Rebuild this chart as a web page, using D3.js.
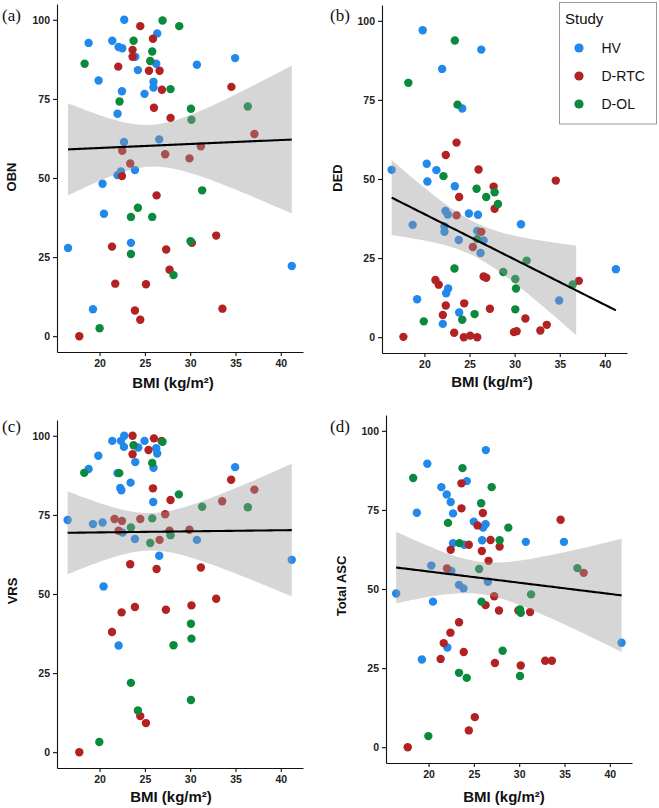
<!DOCTYPE html>
<html>
<head>
<meta charset="utf-8">
<script src="https://cdn.jsdelivr.net/npm/d3@7"></script>
<style>
  html, body { margin: 0; padding: 0; background: #fff; }
  svg { display: block; }
</style>
</head>
<body>
<svg id="chart" width="659" height="808"></svg>
<script>
// ---------------- DATA ----------------
const studies = ["HV", "D-RTC", "D-OL"];
const studyColors = ["#2188EC", "#B22222", "#0B8A3E"];
const xTicks = [20, 25, 30, 35, 40];
const yTicks = [0, 25, 50, 75, 100];
const xTitle = "BMI (kg/m²)";
const legendTitle = "Study";

// [BMI, score, study]
const obnData = [
  [22.72,100,"HV"],[18.79,92.7,"HV"],[21.40,93.4,"HV"],[26.36,95.7,"HV"],[22.1,91.4,"HV"],[22.5,91.0,"HV"],
  [23.94,88.3,"HV"],[26.25,86.1,"HV"],[30.74,85.8,"HV"],[34.96,87.9,"HV"],[24.23,84.1,"HV"],[19.89,80.8,"HV"],
  [25.95,80.4,"HV"],[25.95,78.6,"HV"],[22.47,77.4,"HV"],[24.96,76.6,"HV"],[21.98,70.3,"HV"],[22.69,61.4,"HV"],
  [26.58,62.2,"HV"],[22.36,52.1,"HV"],[23.90,52.5,"HV"],[21.98,50.9,"HV"],[20.33,48.2,"HV"],[20.48,38.7,"HV"],
  [23.46,29.5,"HV"],[16.52,27.9,"HV"],[41.21,22.2,"HV"],[19.27,8.5,"HV"],
  [24.49,98.0,"D-RTC"],[25.89,94.0,"D-RTC"],[23.64,90.5,"D-RTC"],[23.64,88.3,"D-RTC"],[22.06,85.2,"D-RTC"],
  [25.45,83.9,"D-RTC"],[26.62,83.9,"D-RTC"],[26.88,77.9,"D-RTC"],[34.55,78.8,"D-RTC"],[26.0,72.2,"D-RTC"],
  [27.83,69.0,"D-RTC"],[37.09,63.9,"D-RTC"],[31.18,60.0,"D-RTC"],[22.50,58.6,"D-RTC"],[27.24,57.5,"D-RTC"],
  [29.92,56.2,"D-RTC"],[23.38,54.6,"D-RTC"],[22.47,50.6,"D-RTC"],[26.29,44.5,"D-RTC"],[32.87,31.8,"D-RTC"],
  [30.19,29.5,"D-RTC"],[21.37,28.3,"D-RTC"],[27.35,27.4,"D-RTC"],[27.72,21.0,"D-RTC"],[21.73,16.6,"D-RTC"],
  [25.12,16.4,"D-RTC"],[23.9,8.1,"D-RTC"],[33.56,8.7,"D-RTC"],[24.49,5.2,"D-RTC"],[17.76,0,"D-RTC"],
  [26.95,99.8,"D-OL"],[28.79,98.0,"D-OL"],[23.75,93.4,"D-OL"],[25.81,90.0,"D-OL"],[18.35,86.1,"D-OL"],
  [25.59,87.0,"D-OL"],[27.83,78.1,"D-OL"],[22.2,74.2,"D-OL"],[30.08,71.9,"D-OL"],[36.36,72.6,"D-OL"],
  [30.14,68.4,"D-OL"],[31.32,46.1,"D-OL"],[24.23,40.6,"D-OL"],[23.46,37.7,"D-OL"],[25.81,37.7,"D-OL"],
  [30.04,30.0,"D-OL"],[23.46,26.0,"D-OL"],[28.16,19.3,"D-OL"],[20.0,2.5,"D-OL"]
];

const dedData = [
  [19.81,97.0,"HV"],[26.30,90.9,"HV"],[21.96,84.8,"HV"],[24.19,72.3,"HV"],[16.37,52.9,"HV"],[20.26,54.8,"HV"],
  [21.33,52.8,"HV"],[20.33,49.2,"HV"],[23.37,47.7,"HV"],[22.33,39.9,"HV"],[22.59,38.8,"HV"],[24.93,39.1,"HV"],
  [25.93,38.7,"HV"],[18.70,35.5,"HV"],[30.70,35.7,"HV"],[22.22,35.0,"HV"],[22.22,33.3,"HV"],[25.85,33.6,"HV"],
  [23.81,30.7,"HV"],[26.56,30.6,"HV"],[26.22,26.6,"HV"],[41.22,21.5,"HV"],[22.63,15.4,"HV"],[22.41,13.9,"HV"],
  [19.19,12.0,"HV"],[34.93,11.6,"HV"],[23.85,7.8,"HV"],[22.04,4.2,"HV"],
  [23.56,61.5,"D-RTC"],[22.37,57.6,"D-RTC"],[26.0,53.0,"D-RTC"],[27.67,47.6,"D-RTC"],[34.56,49.5,"D-RTC"],
  [23.85,44.3,"D-RTC"],[27.78,40.6,"D-RTC"],[23.56,38.5,"D-RTC"],[26.30,33.3,"D-RTC"],[25.37,28.5,"D-RTC"],
  [26.56,19.2,"D-RTC"],[26.85,18.8,"D-RTC"],[21.22,18.1,"D-RTC"],[21.59,16.6,"D-RTC"],[37.11,17.8,"D-RTC"],
  [22.37,10.0,"D-RTC"],[24.41,10.7,"D-RTC"],[27.26,9.0,"D-RTC"],[22.04,7.0,"D-RTC"],[31.19,5.9,"D-RTC"],
  [33.56,3.9,"D-RTC"],[32.85,2.1,"D-RTC"],[23.3,1.4,"D-RTC"],[29.92,1.6,"D-RTC"],[30.22,1.9,"D-RTC"],
  [17.67,0.1,"D-RTC"],[24.37,0,"D-RTC"],[25.07,0.5,"D-RTC"],[25.85,0,"D-RTC"],
  [23.37,93.8,"D-OL"],[18.22,80.4,"D-OL"],[23.67,73.5,"D-OL"],[22.11,50.9,"D-OL"],[25.78,46.9,"D-OL"],
  [27.78,45.8,"D-OL"],[26.85,44.3,"D-OL"],[28.15,42.1,"D-OL"],[25.85,31.0,"D-OL"],[31.33,24.2,"D-OL"],
  [23.33,21.7,"D-OL"],[28.74,20.6,"D-OL"],[30.07,18.4,"D-OL"],[36.44,16.7,"D-OL"],[30.15,15.4,"D-OL"],
  [25.56,7.3,"D-OL"],[30.07,8.8,"D-OL"],[19.93,5.0,"D-OL"],[24.19,5.5,"D-OL"]
];

const vrsData = [
  [22.72,100,"HV"],[21.40,98.4,"HV"],[22.36,98.4,"HV"],[24.96,98.4,"HV"],[22.69,96.5,"HV"],[24.27,96.3,"HV"],
  [26.25,96.1,"HV"],[26.36,94.4,"HV"],[19.86,93.7,"HV"],[23.94,91.7,"HV"],[25.95,89.9,"HV"],[34.96,90.1,"HV"],
  [18.79,89.5,"HV"],[21.98,88.2,"HV"],[23.42,85.2,"HV"],[22.28,83.5,"HV"],[22.4,82.8,"HV"],[25.92,79.1,"HV"],
  [16.47,73.4,"HV"],[19.27,72.1,"HV"],[20.33,72.6,"HV"],[22.54,69.4,"HV"],[23.90,67.4,"HV"],[30.74,67.1,"HV"],
  [26.58,62.1,"HV"],[41.21,60.8,"HV"],[20.44,52.4,"HV"],[22.1,33.7,"HV"],
  [23.64,100,"D-RTC"],[26.0,99.2,"D-RTC"],[26.84,98.4,"D-RTC"],[25.40,95.5,"D-RTC"],[23.64,94.2,"D-RTC"],
  [34.52,86.1,"D-RTC"],[25.89,83.4,"D-RTC"],[37.09,83.0,"D-RTC"],[27.83,79.7,"D-RTC"],[33.53,79.3,"D-RTC"],
  [21.65,73.7,"D-RTC"],[22.47,73.1,"D-RTC"],[24.49,73.7,"D-RTC"],[27.24,75.2,"D-RTC"],[22.1,70.0,"D-RTC"],
  [27.72,70.0,"D-RTC"],[29.92,70.3,"D-RTC"],[26.62,67.1,"D-RTC"],[23.38,59.4,"D-RTC"],[26.29,57.9,"D-RTC"],
  [31.18,58.4,"D-RTC"],[32.87,48.5,"D-RTC"],[22.43,44.2,"D-RTC"],[23.9,45.9,"D-RTC"],[27.32,45.0,"D-RTC"],
  [30.14,46.4,"D-RTC"],[21.37,38.0,"D-RTC"],[24.49,11.4,"D-RTC"],[25.12,9.2,"D-RTC"],[17.76,0,"D-RTC"],
  [26.95,98.1,"D-OL"],[23.75,97.0,"D-OL"],[25.81,91.4,"D-OL"],[18.31,88.3,"D-OL"],[22.17,88.2,"D-OL"],
  [28.75,81.5,"D-OL"],[31.32,77.6,"D-OL"],[36.36,77.4,"D-OL"],[25.81,73.9,"D-OL"],[23.46,71.0,"D-OL"],
  [27.83,68.6,"D-OL"],[25.59,66.1,"D-OL"],[30.08,40.6,"D-OL"],[30.14,35.9,"D-OL"],[28.16,33.8,"D-OL"],
  [23.46,21.9,"D-OL"],[30.08,16.5,"D-OL"],[24.23,13.2,"D-OL"],[19.97,3.2,"D-OL"]
];

const ascData = [
  [26.32,93.9,"HV"],[19.86,89.6,"HV"],[24.22,84.1,"HV"],[21.41,82.2,"HV"],[22.0,79.9,"HV"],[22.44,77.5,"HV"],
  [18.70,74.1,"HV"],[22.70,73.9,"HV"],[24.99,71.3,"HV"],[26.29,70.5,"HV"],[26.02,69.4,"HV"],[30.73,64.9,"HV"],
  [34.94,64.9,"HV"],[22.70,64.5,"HV"],[23.92,64.0,"HV"],[25.91,65.4,"HV"],[20.30,57.4,"HV"],[22.51,55.7,"HV"],
  [26.54,52.3,"HV"],[23.36,51.3,"HV"],[23.85,50.2,"HV"],[16.42,48.6,"HV"],[20.48,46.0,"HV"],[22.07,31.5,"HV"],
  [41.3,33.0,"HV"],[19.26,27.7,"HV"],
  [23.63,83.4,"D-RTC"],[23.63,75.5,"D-RTC"],[25.99,74.0,"D-RTC"],[25.40,70.1,"D-RTC"],[34.57,71.9,"D-RTC"],
  [24.44,64.0,"D-RTC"],[26.84,65.5,"D-RTC"],[27.84,63.4,"D-RTC"],[22.44,62.4,"D-RTC"],[25.88,62.0,"D-RTC"],
  [26.62,58.9,"D-RTC"],[22.03,56.5,"D-RTC"],[37.12,55.1,"D-RTC"],[27.24,47.7,"D-RTC"],[26.29,44.9,"D-RTC"],
  [27.77,43.2,"D-RTC"],[29.91,43.2,"D-RTC"],[31.2,42.7,"D-RTC"],[23.36,39.5,"D-RTC"],[22.41,36.2,"D-RTC"],
  [21.67,32.9,"D-RTC"],[23.88,30.1,"D-RTC"],[21.33,27.9,"D-RTC"],[27.32,26.6,"D-RTC"],[32.87,27.3,"D-RTC"],
  [33.61,27.3,"D-RTC"],[30.17,25.8,"D-RTC"],[25.10,9.5,"D-RTC"],[24.44,5.3,"D-RTC"],[17.70,0,"D-RTC"],
  [23.74,88.2,"D-OL"],[18.30,85.1,"D-OL"],[26.96,82.2,"D-OL"],[25.80,77.1,"D-OL"],[22.14,70.9,"D-OL"],
  [28.80,69.4,"D-OL"],[23.40,64.5,"D-OL"],[27.84,65.4,"D-OL"],[25.58,56.3,"D-OL"],[36.42,56.6,"D-OL"],
  [31.31,48.3,"D-OL"],[25.84,46.0,"D-OL"],[30.09,43.5,"D-OL"],[30.17,42.5,"D-OL"],[28.17,30.5,"D-OL"],
  [23.36,23.5,"D-OL"],[24.21,21.9,"D-OL"],[30.09,22.5,"D-OL"],[19.97,3.5,"D-OL"]
];

// ---------------- LAYOUT ----------------
const panels = [
  { tag: "(a)", yTitle: "OBN",       data: obnData, l: 57,  r: 303, t: 4,   b: 352, tagX: 2,   tagY: 21,  yTitleX: 11,  yTitleY: 177, xTitleX: 173, xTitleY: 388 },
  { tag: "(b)", yTitle: "DED",       data: dedData, l: 382, r: 627, t: 5,   b: 353, tagX: 330, tagY: 21,  yTitleX: 337, yTitleY: 178, xTitleX: 492, xTitleY: 387 },
  { tag: "(c)", yTitle: "VRS",       data: vrsData, l: 57,  r: 303, t: 420, b: 768, tagX: 2,   tagY: 432, yTitleX: 12,  yTitleY: 591, xTitleX: 171, xTitleY: 802 },
  { tag: "(d)", yTitle: "Total ASC", data: ascData, l: 386, r: 632, t: 415, b: 763, tagX: 330, tagY: 432, yTitleX: 341, yTitleY: 586, xTitleX: 504, xTitleY: 802 }
];

const color = d3.scaleOrdinal().domain(studies).range(studyColors);
const svg = d3.select("#chart");
svg.append("rect").attr("width", 659).attr("height", 808).attr("fill", "#fff");

// t quantile (0.975) approximation
function tq975(df) {
  const z = 1.959964;
  return z + (z ** 3 + z) / (4 * df) + (5 * z ** 5 + 16 * z ** 3 + 3 * z) / (96 * df * df)
    + (3 * z ** 7 + 19 * z ** 5 + 17 * z ** 3 - 15 * z) / (384 * df ** 3);
}

function linearFit(data) {
  const n = data.length;
  const xs = data.map(d => d[0]), ys = data.map(d => d[1]);
  const mx = d3.mean(xs), my = d3.mean(ys);
  let sxx = 0, sxy = 0;
  for (let i = 0; i < n; i++) { sxx += (xs[i] - mx) ** 2; sxy += (xs[i] - mx) * (ys[i] - my); }
  const slope = sxy / sxx, icpt = my - slope * mx;
  let sse = 0;
  for (let i = 0; i < n; i++) sse += (ys[i] - icpt - slope * xs[i]) ** 2;
  const sigma = Math.sqrt(sse / (n - 2));
  const tval = tq975(n - 2);
  const [x0, x1] = d3.extent(xs);
  return d3.range(80).map(i => {
    const xv = x0 + (x1 - x0) * i / 79;
    const fit = icpt + slope * xv;
    const se = sigma * Math.sqrt(1 / n + (xv - mx) ** 2 / sxx);
    return { x: xv, y: fit, lo: fit - tval * se, hi: fit + tval * se };
  });
}

panels.forEach(p => {
  const x = d3.scaleLinear().domain([15.3, 42.45]).range([p.l, p.r]);
  const y = d3.scaleLinear().domain([-5, 105]).range([p.b, p.t]);
  const g = svg.append("g");

  // points
  g.append("g").selectAll("circle").data(p.data).join("circle")
    .attr("cx", d => x(d[0])).attr("cy", d => y(d[1])).attr("r", 4.2)
    .attr("fill", d => color(d[2]));

  // smooth (lm with 95% CI), ribbon censored to the [0,100] limits
  const fit = linearFit(p.data);
  const segs = [];
  let cur = [];
  fit.forEach(d => {
    if (d.lo >= 0 && d.hi <= 100) cur.push(d);
    else { if (cur.length) segs.push(cur); cur = []; }
  });
  if (cur.length) segs.push(cur);
  const area = d3.area().x(d => x(d.x)).y0(d => y(d.lo)).y1(d => y(d.hi));
  segs.forEach(s => {
    g.append("path").attr("d", area(s)).attr("fill", "#999999").attr("fill-opacity", 0.4);
  });
  const line = d3.line().x(d => x(d.x)).y(d => y(d.y));
  g.append("path").attr("d", line(fit.filter(d => d.y >= 0 && d.y <= 100)))
    .attr("fill", "none").attr("stroke", "#000").attr("stroke-width", 2.1);

  // axes
  const xa = g.append("g").attr("transform", `translate(0,${p.b})`)
    .call(d3.axisBottom(x).tickValues(xTicks).tickSize(4).tickSizeOuter(0).tickPadding(4));
  const ya = g.append("g").attr("transform", `translate(${p.l},0)`)
    .call(d3.axisLeft(y).tickValues(yTicks).tickSize(4).tickSizeOuter(0).tickPadding(3));
  [xa, ya].forEach(a => {
    a.select(".domain").attr("stroke", "#111").attr("stroke-width", 1.1);
    a.selectAll(".tick line").attr("stroke", "#111").attr("stroke-width", 1.1);
    a.selectAll(".tick text").attr("fill", "#222")
      .style("font-family", "'Liberation Sans', Arial, sans-serif")
      .style("font-weight", "bold").style("font-size", "10.5px");
  });

  // titles
  g.append("text").attr("x", p.xTitleX).attr("y", p.xTitleY).attr("text-anchor", "middle")
    .style("font-family", "'Liberation Sans', Arial, sans-serif").style("font-weight", "bold")
    .style("font-size", "15px").attr("fill", "#111").text(xTitle);
  g.append("text").attr("transform", `translate(${p.yTitleX},${p.yTitleY}) rotate(-90)`)
    .attr("text-anchor", "middle").attr("dy", "0.35em")
    .style("font-family", "'Liberation Sans', Arial, sans-serif").style("font-weight", "bold")
    .style("font-size", "13px").attr("fill", "#111").text(p.yTitle);
  g.append("text").attr("x", p.tagX).attr("y", p.tagY)
    .style("font-family", "'Liberation Serif', 'Times New Roman', serif")
    .style("font-size", "17px").attr("fill", "#111").text(p.tag);
});

// legend (in panel b)
const lg = svg.append("g");
lg.append("rect").attr("x", 559.5).attr("y", 2.5).attr("width", 97).attr("height", 121.5)
  .attr("fill", "#fff").attr("stroke", "#9a9a9a").attr("stroke-width", 1);
lg.append("text").attr("x", 565).attr("y", 23.5)
  .style("font-family", "'Liberation Sans', Arial, sans-serif").style("font-size", "15px")
  .attr("fill", "#111").text(legendTitle);
studies.forEach((s, i) => {
  const cy = 48 + i * 28;
  lg.append("circle").attr("cx", 579).attr("cy", cy).attr("r", 4.6).attr("fill", color(s));
  lg.append("text").attr("x", 601.5).attr("y", cy).attr("dy", "0.36em")
    .style("font-family", "'Liberation Sans', Arial, sans-serif").style("font-size", "14px")
    .attr("fill", "#111").text(s);
});
</script>
</body>
</html>
